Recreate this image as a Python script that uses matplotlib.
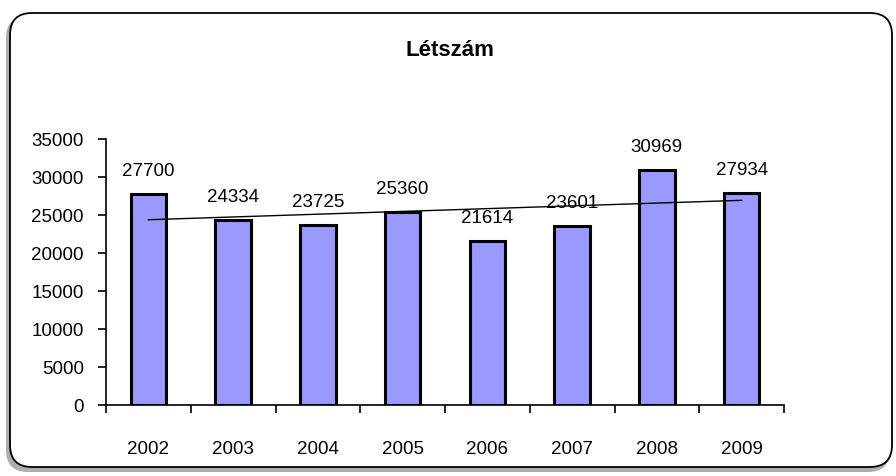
import numpy as np
import matplotlib
matplotlib.use("Agg")
import matplotlib.pyplot as plt
from matplotlib.patches import FancyBboxPatch

# -----------------------------------------------------------------------
# Data
# -----------------------------------------------------------------------
TITLE  = "Létszám"
YEARS  = ["2002", "2003", "2004", "2005", "2006", "2007", "2008", "2009"]
VALUES = [27700, 24334, 23725, 25360, 21614, 23601, 30969, 27934]
Y_TICKS = [0, 5000, 10000, 15000, 20000, 25000, 30000, 35000]

BAR_COLOR = "#9999FF"
FONT = "Liberation Sans"

plt.rcParams["font.family"] = [FONT, "DejaVu Sans"]

fig = plt.figure(figsize=(8.96, 4.77), dpi=100, facecolor="white")

# ---- frame with shadow ----
bg = fig.add_axes([0, 0, 1, 1])
bg.set_xlim(0, 896)
bg.set_ylim(477, 0)
bg.axis("off")
shadow = FancyBboxPatch((6, 17), 884, 456, boxstyle="round,pad=0,rounding_size=22",
                        facecolor="#8a8a8a", edgecolor="none", alpha=0.7)
frame = FancyBboxPatch((10, 14), 882, 454, boxstyle="round,pad=0,rounding_size=22",
                       facecolor="white", edgecolor="black", linewidth=1.3)
bg.add_patch(shadow)
bg.add_patch(frame)
bg.text(450, 51, TITLE, ha="center", va="center", fontsize=16, weight="bold")

# ---- bar chart ----
ax = fig.add_axes([106 / 896, 71 / 477, 678 / 896, 266 / 477])
ax.patch.set_alpha(0)
x = np.arange(len(YEARS))
bars = ax.bar(x, VALUES, width=0.42, color=BAR_COLOR, edgecolor="black", linewidth=2.2)

# linear trendline
slope, icpt = np.polyfit(x, VALUES, 1)
ax.plot(x, slope * x + icpt, color="black", linewidth=1.0)

for xi, v in zip(x, VALUES):
    ax.annotate(str(v), (xi, v), xytext=(0, 17), textcoords="offset points",
                ha="center", va="center", fontsize=13.5)

ax.set_xlim(-0.5, len(YEARS) - 0.5)
ax.set_ylim(0, 35000)
ax.set_yticks(Y_TICKS)
ax.set_yticklabels([str(t) for t in Y_TICKS], fontsize=13.5)
ax.set_xticks(x)
ax.set_xticklabels(YEARS, fontsize=13.5)
ax.set_xticks(np.arange(len(YEARS) + 1) - 0.5, minor=True)
ax.tick_params(axis="x", which="major", length=0, pad=25)
ax.tick_params(axis="x", which="minor", length=6, width=1.2, direction="out")
ax.tick_params(axis="y", length=6, width=1.2, pad=10)
ax.spines["top"].set_visible(False)
ax.spines["right"].set_visible(False)
ax.spines["left"].set_linewidth(1.2)
ax.spines["bottom"].set_linewidth(1.2)

plt.savefig("out.png", dpi=100, facecolor="white")
plt.close(fig)
